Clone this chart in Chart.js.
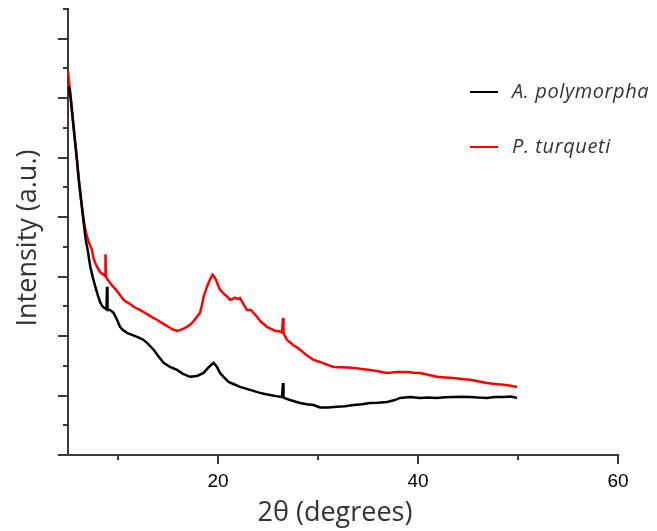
<!DOCTYPE html>
<html>
<head>
<meta charset="utf-8">
<script src="https://cdn.jsdelivr.net/npm/chart.js@4.4.1/dist/chart.umd.min.js"></script>
<style>
  html, body { margin: 0; padding: 0; background: #ffffff; }
  #wrap { width: 657px; height: 531px; position: relative; }
</style>
</head>
<body>
<div id="wrap"><canvas id="c"></canvas></div>
<script>
// ---- data ----
const seriesNames = ["A. polymorpha", "P. turqueti"];
const seriesColors = ["#000000", "#ff0000"];

const apX = [5.1,5.25,5.4,5.56,5.73,5.9,6.06,6.23,6.4,6.56,6.73,6.85,7.0,7.1,7.23,7.5,7.73,8.0,8.23,8.45,8.6,8.85,8.9,8.95,9.2,9.56,9.9,10.2,10.5,10.9,11.4,11.9,12.2,12.56,13.0,13.56,14.0,14.56,15.2,15.9,16.5,17.2,17.9,18.56,19.0,19.56,19.9,20.2,20.56,21.06,21.6,22.2,22.7,23.2,23.7,24.2,24.7,25.2,25.8,26.4,26.5,26.55,27.2,27.7,28.2,28.9,29.56,30.2,31.0,31.9,32.7,33.56,34.4,35.2,36.0,36.9,37.6,38.2,39.2,40.2,41.0,41.9,42.7,43.56,44.4,45.2,46.0,46.9,47.7,48.56,49.3,49.9];
const apY = [12.4,12.05,11.55,11.0,10.45,9.9,9.3,8.8,8.3,7.85,7.34,7.1,6.84,6.6,6.33,5.95,5.66,5.35,5.12,5.0,4.95,4.9,5.66,4.88,4.88,4.78,4.55,4.31,4.2,4.11,4.04,3.97,3.93,3.87,3.74,3.54,3.34,3.10,2.96,2.86,2.73,2.63,2.66,2.76,2.93,3.10,2.96,2.76,2.63,2.46,2.38,2.29,2.24,2.19,2.14,2.09,2.05,2.02,1.98,1.95,2.42,1.93,1.85,1.80,1.75,1.71,1.68,1.60,1.60,1.62,1.64,1.68,1.71,1.75,1.76,1.78,1.84,1.92,1.95,1.92,1.93,1.92,1.94,1.95,1.96,1.95,1.93,1.92,1.95,1.95,1.97,1.92];

const ptX = [5.0,5.1,5.23,5.4,5.56,5.73,5.9,6.06,6.23,6.4,6.56,6.73,6.9,7.15,7.4,7.55,7.73,7.95,8.2,8.4,8.6,8.7,8.75,8.8,8.95,9.2,9.5,9.8,10.2,10.56,10.9,11.2,11.7,12.2,12.6,13.0,13.5,13.9,14.3,14.8,15.2,15.56,15.9,16.2,16.6,16.9,17.2,17.5,17.9,18.2,18.4,18.56,18.9,19.2,19.45,19.6,19.8,20.0,20.2,20.5,20.7,21.0,21.2,21.5,21.7,22.0,22.2,22.5,22.9,23.3,23.6,23.9,24.3,24.6,24.9,25.3,25.7,26.1,26.4,26.5,26.55,26.9,27.2,27.5,27.9,28.2,28.5,28.8,29.2,29.56,29.9,30.2,30.9,31.56,32.2,33.0,33.56,34.4,35.2,36.0,36.9,37.9,38.9,39.6,40.2,41.0,41.9,42.7,43.56,44.4,45.2,46.0,46.9,47.7,48.56,49.3,49.9];
const ptY = [12.91,12.55,12.19,11.6,11.05,10.5,9.93,9.35,8.82,8.35,7.91,7.6,7.34,7.1,6.90,6.62,6.46,6.3,6.16,6.1,6.06,6.02,6.75,6.0,5.9,5.79,5.66,5.56,5.38,5.22,5.14,5.08,4.96,4.88,4.8,4.72,4.62,4.55,4.46,4.36,4.28,4.21,4.18,4.2,4.26,4.31,4.38,4.48,4.65,4.78,5.05,5.32,5.66,5.9,6.06,6.0,5.89,5.72,5.56,5.45,5.39,5.3,5.22,5.25,5.29,5.24,5.28,5.1,4.88,4.88,4.76,4.65,4.48,4.4,4.31,4.24,4.18,4.16,4.12,4.61,4.1,3.87,3.79,3.70,3.62,3.54,3.46,3.37,3.28,3.20,3.16,3.13,3.04,2.96,2.95,2.94,2.93,2.89,2.86,2.82,2.76,2.79,2.79,2.77,2.76,2.70,2.63,2.61,2.59,2.56,2.53,2.48,2.42,2.39,2.36,2.33,2.29];

const xMajorTicks = [20, 40, 60];
const xMinorTicks = [10, 30, 50];
const yMajorTicks = [0, 2, 4, 6, 8, 10, 12, 14];
const yMinorTicks = [1, 3, 5, 7, 9, 11, 13, 15];
const xTitle = "2θ (degrees)";
const yTitle = "Intensity (a.u.)";

function toPoints(xs, ys) { return xs.map((x, i) => ({ x: x, y: ys[i] })); }

const axisColor = "#3a3a3a";
const textColor = "#000000";

const decorPlugin = {
  id: "decor",
  afterDraw(chart) {
    const ctx = chart.ctx;
    const xs = chart.scales.x, ys = chart.scales.y;
    const axisY = ys.bottom;
    const axisX = xs.left;
    ctx.save();
    ctx.strokeStyle = axisColor;
    ctx.lineWidth = 2;
    // x ticks
    xMajorTicks.forEach(v => {
      const p = Math.round(xs.getPixelForValue(v));
      ctx.beginPath(); ctx.moveTo(p, axisY); ctx.lineTo(p, axisY + 9); ctx.stroke();
    });
    xMinorTicks.forEach(v => {
      const p = Math.round(xs.getPixelForValue(v));
      ctx.beginPath(); ctx.moveTo(p, axisY); ctx.lineTo(p, axisY + 5); ctx.stroke();
    });
    // y ticks
    yMajorTicks.forEach(v => {
      const p = Math.round(ys.getPixelForValue(v));
      ctx.beginPath(); ctx.moveTo(axisX - 10, p); ctx.lineTo(axisX, p); ctx.stroke();
    });
    yMinorTicks.forEach(v => {
      const p = Math.round(ys.getPixelForValue(v));
      ctx.beginPath(); ctx.moveTo(axisX - 5, p); ctx.lineTo(axisX, p); ctx.stroke();
    });
    // axis titles
    ctx.fillStyle = "#333333";
    ctx.font = "27px 'Open Sans'";
    ctx.textAlign = "center";
    ctx.textBaseline = "alphabetic";
    ctx.fillText(xTitle, 335, 521);
    ctx.save();
    ctx.translate(36, 238);
    ctx.rotate(-Math.PI / 2);
    ctx.fillText(yTitle, 0, 0);
    ctx.restore();
    // legend
    const legY = [92, 147];
    seriesNames.forEach((name, i) => {
      ctx.strokeStyle = seriesColors[i];
      ctx.lineWidth = 2;
      ctx.beginPath(); ctx.moveTo(470, legY[i]); ctx.lineTo(498, legY[i]); ctx.stroke();
      ctx.fillStyle = "#333333";
      ctx.font = "italic 20px 'Open Sans'";
      ctx.letterSpacing = "0.6px";
      ctx.textAlign = "left";
      ctx.textBaseline = "middle";
      ctx.fillText(name, 512, legY[i]);
      ctx.letterSpacing = "0px";
    });
    ctx.restore();
  }
};

new Chart(document.getElementById("c"), {
  type: "line",
  data: {
    datasets: [
      { label: seriesNames[0], data: toPoints(apX, apY), borderColor: seriesColors[0], borderWidth: 2.5, pointRadius: 0, tension: 0, fill: false },
      { label: seriesNames[1], data: toPoints(ptX, ptY), borderColor: seriesColors[1], borderWidth: 2.5, pointRadius: 0, tension: 0, fill: false }
    ]
  },
  options: {
    responsive: true,
    maintainAspectRatio: false,
    animation: false,
    layout: { padding: { left: 0, top: 9, right: 39, bottom: 0 } },
    plugins: { legend: { display: false }, tooltip: { enabled: false } },
    scales: {
      x: {
        type: "linear",
        min: 5, max: 60,
        grid: { display: false, drawTicks: false },
        border: { display: true, color: axisColor, width: 2 },
        afterBuildTicks(scale) { scale.ticks = xMajorTicks.map(v => ({ value: v })); },
        ticks: { color: textColor, font: { family: "'Liberation Sans', Arial", size: 19 }, padding: 15, maxRotation: 0 },
        afterFit(scale) { scale.height = 76; }
      },
      y: {
        type: "linear",
        min: 0, max: 15,
        grid: { display: false, drawTicks: false },
        border: { display: true, color: axisColor, width: 2 },
        ticks: { display: false },
        afterFit(scale) { scale.width = 68; }
      }
    }
  },
  plugins: [decorPlugin]
});
</script>
</body>
</html>
